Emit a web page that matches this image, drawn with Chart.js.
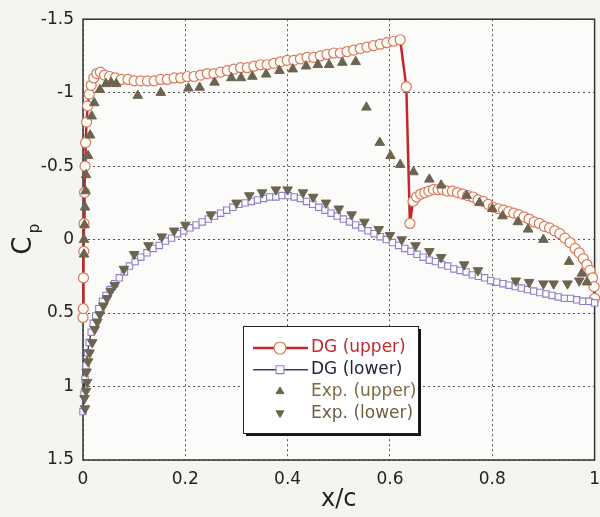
<!DOCTYPE html>
<html>
<head>
<meta charset="utf-8">
<script src="https://cdn.jsdelivr.net/npm/chart.js@4.4.1/dist/chart.umd.min.js"></script>
<style>
  html, body { margin: 0; padding: 0; background: #f4f4f1; overflow: hidden; }
  #caixa { width: 600px; height: 517px; overflow: hidden; }
</style>
</head>
<body>
<div id="caixa"><canvas id="graficoCp" width="609" height="517"></canvas></div>
<script>
// --- Dados ---
// DG (upper): superfície superior
const upperX = [0.000, 0.0005, 0.001, 0.0015, 0.002, 0.003, 0.004, 0.005, 0.007, 0.009, 0.012, 0.016, 0.021, 0.027, 0.034, 0.042,
  0.052, 0.063, 0.075, 0.088, 0.100, 0.113, 0.126, 0.139, 0.152, 0.165, 0.178, 0.191, 0.204, 0.217, 0.230, 0.243, 0.256, 0.269,
  0.282, 0.295, 0.308, 0.321, 0.334, 0.347, 0.360, 0.373, 0.386, 0.399, 0.412, 0.425, 0.438, 0.451, 0.464, 0.477, 0.490, 0.503,
  0.516, 0.529, 0.542, 0.555, 0.568, 0.581, 0.594, 0.607, 0.620, 0.632, 0.639, 0.645, 0.652, 0.660, 0.668, 0.676, 0.685, 0.694,
  0.703, 0.712, 0.722, 0.732, 0.742, 0.752, 0.762, 0.772, 0.782, 0.792, 0.802, 0.812, 0.822, 0.832, 0.842, 0.852, 0.862, 0.872,
  0.882, 0.892, 0.902, 0.912, 0.922, 0.932, 0.942, 0.952, 0.962, 0.970, 0.978, 0.985, 0.991, 0.996, 0.999, 1.000];
const upperCp = [0.53, 0.47, 0.26, 0.08, -0.11, -0.32, -0.50, -0.66, -0.80, -0.91, -0.99, -1.05, -1.10, -1.13, -1.14, -1.12,
  -1.11, -1.10, -1.09, -1.09, -1.08, -1.08, -1.08, -1.08, -1.09, -1.09, -1.10, -1.10, -1.11, -1.11, -1.12, -1.13, -1.13, -1.14,
  -1.15, -1.16, -1.17, -1.17, -1.18, -1.19, -1.19, -1.20, -1.21, -1.22, -1.22, -1.23, -1.24, -1.24, -1.25, -1.26, -1.27, -1.27,
  -1.28, -1.29, -1.30, -1.31, -1.32, -1.33, -1.34, -1.35, -1.36, -1.04, -0.11, -0.26, -0.29, -0.31, -0.32, -0.33, -0.34, -0.34,
  -0.34, -0.33, -0.33, -0.32, -0.31, -0.30, -0.29, -0.27, -0.26, -0.24, -0.22, -0.21, -0.20, -0.19, -0.18, -0.17, -0.155, -0.14,
  -0.12, -0.11, -0.09, -0.08, -0.06, -0.04, -0.01, 0.02, 0.06, 0.09, 0.13, 0.17, 0.21, 0.26, 0.32, 0.40];

// DG (lower): superfície inferior
const lowerX = [0.000, 0.002, 0.004, 0.006, 0.009, 0.012, 0.016, 0.020, 0.025, 0.031, 0.038, 0.045, 0.053, 0.062, 0.071, 0.081,
  0.091, 0.102, 0.113, 0.125, 0.137, 0.149, 0.161, 0.173, 0.185, 0.197, 0.209, 0.221, 0.233, 0.245, 0.257, 0.269, 0.281, 0.293,
  0.305, 0.317, 0.329, 0.341, 0.353, 0.365, 0.377, 0.389, 0.401, 0.413, 0.425, 0.437, 0.449, 0.461, 0.473, 0.485, 0.497, 0.509,
  0.521, 0.533, 0.545, 0.557, 0.569, 0.581, 0.593, 0.605, 0.617, 0.629, 0.641, 0.653, 0.665, 0.677, 0.689, 0.701, 0.713, 0.725,
  0.737, 0.749, 0.761, 0.773, 0.785, 0.797, 0.809, 0.821, 0.833, 0.845, 0.857, 0.869, 0.881, 0.893, 0.905, 0.917, 0.929, 0.941,
  0.953, 0.965, 0.977, 0.989, 1.000];
const lowerCp = [1.17, 1.05, 0.95, 0.86, 0.77, 0.70, 0.63, 0.57, 0.52, 0.47, 0.42, 0.38, 0.34, 0.30, 0.26, 0.22,
  0.18, 0.15, 0.12, 0.09, 0.06, 0.04, 0.01, -0.01, -0.04, -0.06, -0.08, -0.10, -0.12, -0.14, -0.16, -0.18, -0.20, -0.22,
  -0.24, -0.25, -0.26, -0.27, -0.28, -0.29, -0.29, -0.30, -0.30, -0.29, -0.28, -0.26, -0.24, -0.22, -0.20, -0.18, -0.16, -0.14,
  -0.12, -0.10, -0.08, -0.06, -0.04, -0.02, 0.00, 0.02, 0.04, 0.06, 0.08, 0.10, 0.12, 0.14, 0.15, 0.17, 0.18, 0.20,
  0.21, 0.22, 0.24, 0.25, 0.26, 0.28, 0.29, 0.30, 0.31, 0.32, 0.33, 0.34, 0.35, 0.36, 0.37, 0.38, 0.39, 0.40,
  0.40, 0.41, 0.42, 0.42, 0.43];

// Exp. (upper)
const expUpperX = [0.002, 0.002, 0.003, 0.004, 0.005, 0.006, 0.010, 0.014, 0.017, 0.022, 0.033, 0.045, 0.055, 0.065, 0.107,
  0.152, 0.206, 0.228, 0.257, 0.290, 0.309, 0.331, 0.358, 0.384, 0.410, 0.436, 0.459, 0.481, 0.507, 0.533, 0.554, 0.580,
  0.601, 0.620, 0.646, 0.677, 0.700, 0.750, 0.775, 0.800, 0.820, 0.850, 0.870, 0.900, 0.950, 0.975, 0.985];
const expUpperCp = [0.10, 0.00, -0.10, -0.22, -0.33, -0.44, -0.57, -0.71, -0.84, -0.93, -1.02, -1.06, -1.07, -1.06, -0.98,
  -1.00, -1.03, -1.035, -1.07, -1.10, -1.10, -1.11, -1.125, -1.15, -1.16, -1.18, -1.19, -1.19, -1.205, -1.21, -0.90, -0.66,
  -0.57, -0.51, -0.46, -0.41, -0.37, -0.30, -0.25, -0.21, -0.16, -0.12, -0.07, 0.00, 0.15, 0.23, 0.29];

// Exp. (lower)
const expLowerX = [0.003, 0.004, 0.006, 0.007, 0.008, 0.010, 0.013, 0.018, 0.023, 0.028, 0.033, 0.040, 0.047, 0.054, 0.062,
  0.080, 0.100, 0.128, 0.154, 0.178, 0.200, 0.250, 0.300, 0.325, 0.350, 0.377, 0.400, 0.430, 0.450, 0.475, 0.500, 0.525,
  0.550, 0.578, 0.600, 0.623, 0.650, 0.677, 0.700, 0.745, 0.772, 0.846, 0.872, 0.900, 0.920, 0.947, 0.970];
const expLowerCp = [1.08, 1.15, 1.03, 0.90, 0.97, 0.83, 0.77, 0.70, 0.61, 0.56, 0.51, 0.45, 0.40, 0.35, 0.31,
  0.20, 0.10, 0.04, -0.02, -0.06, -0.10, -0.17, -0.25, -0.30, -0.32, -0.34, -0.34, -0.32, -0.29, -0.25, -0.21, -0.17,
  -0.12, -0.07, -0.03, 0.00, 0.04, 0.08, 0.12, 0.17, 0.21, 0.28, 0.29, 0.30, 0.30, 0.30, 0.28];

const pares = (xs, ys) => xs.map((x, i) => ({ x: x, y: ys[i] }));
// rótulos sem zeros à direita: "-1", "0", "0.2", "1"
const rotulo = (v) => String(Number(v.toFixed(2)));

Chart.defaults.font.family = "'DejaVu Sans', Verdana, sans-serif";

// Fundo branco da área do gráfico
const fundoArea = {
  id: 'fundoArea',
  beforeDraw(chart) {
    const a = chart.chartArea, c = chart.ctx;
    c.save();
    c.fillStyle = '#fbfbf9';
    c.fillRect(a.left, a.top, a.right - a.left, a.bottom - a.top);
    c.restore();
  }
};

// Moldura em volta da área
const moldura = {
  id: 'moldura',
  beforeDatasetsDraw(chart) {
    const a = chart.chartArea, c = chart.ctx;
    c.save();
    c.strokeStyle = '#333';
    c.lineWidth = 1.5;
    c.strokeRect(a.left, a.top, a.right - a.left, a.bottom - a.top);
    c.restore();
  }
};

// Título do eixo y: C com p subscrito
const tituloY = {
  id: 'tituloY',
  afterDraw(chart) {
    const c = chart.ctx;
    const a = chart.chartArea;
    c.save();
    c.translate(24, (a.top + a.bottom) / 2 + 6);
    c.rotate(-Math.PI / 2);
    c.fillStyle = '#222';
    c.textAlign = 'center';
    c.textBaseline = 'middle';
    c.font = "26px 'DejaVu Sans'";
    c.fillText('C', 0, 0);
    c.font = "15px 'DejaVu Sans'";
    c.fillText('p', 17, 11);
    c.restore();
  }
};

// Legenda em caixa com sombra
const legendaCaixa = {
  id: 'legendaCaixa',
  afterDraw(chart) {
    const c = chart.ctx;
    const bx = 243, by = 326, bw = 175, bh = 107;
    c.save();
    c.fillStyle = '#151515';
    c.fillRect(bx + 3, by + 3, bw, bh);
    c.fillStyle = '#ffffff';
    c.fillRect(bx, by, bw, bh);
    c.strokeStyle = '#222';
    c.lineWidth = 1;
    c.strokeRect(bx + 0.5, by + 0.5, bw, bh);
    chart.data.datasets.forEach((ds, i) => {
      const yy = by + 22 + i * 21.7;
      if (ds.showLine) {
        c.strokeStyle = ds.borderColor;
        c.lineWidth = ds.borderWidth;
        c.beginPath();
        c.moveTo(bx + 10, yy);
        c.lineTo(bx + 65, yy);
        c.stroke();
      }
      c.fillStyle = ds.pointBackgroundColor;
      c.strokeStyle = ds.pointBorderColor;
      c.lineWidth = ds.pointBorderWidth;
      Chart.helpers.drawPoint(c, {
        pointStyle: ds.pointStyle,
        rotation: ds.pointRotation || 0,
        radius: ds.showLine ? ds.pointRadius + 1 : 4.5,
        borderWidth: ds.pointBorderWidth
      }, bx + 37, yy);
      c.fillStyle = ds.corLegenda;
      c.font = "17px 'DejaVu Sans'";
      c.textAlign = 'left';
      c.textBaseline = 'middle';
      c.fillText(ds.label, bx + 68, yy);
    });
    c.restore();
  }
};

const ctx = document.getElementById('graficoCp').getContext('2d');

new Chart(ctx, {
  type: 'scatter',
  data: {
    datasets: [
      {
        label: 'DG (upper)',
        data: pares(upperX, upperCp),
        showLine: true,
        borderColor: '#c4262b',
        borderWidth: 2.5,
        pointStyle: 'circle',
        pointRadius: 5,
        pointBackgroundColor: '#fffdf8',
        pointBorderColor: '#d8785c',
        pointBorderWidth: 1.2,
        corLegenda: '#c22a2e',
        order: 2,
        clip: false
      },
      {
        label: 'DG (lower)',
        data: pares(lowerX, lowerCp),
        showLine: true,
        borderColor: '#3b3d63',
        borderWidth: 1.5,
        pointStyle: 'rect',
        pointRadius: 4.5,
        pointBackgroundColor: '#fbfaff',
        pointBorderColor: '#8d82c2',
        pointBorderWidth: 1.1,
        corLegenda: '#1f2142',
        order: 1,
        clip: false
      },
      {
        label: 'Exp. (upper)',
        data: pares(expUpperX, expUpperCp),
        pointStyle: 'triangle',
        pointRadius: 5.5,
        pointBackgroundColor: '#6c6450',
        pointBorderColor: '#6c6450',
        pointBorderWidth: 1,
        corLegenda: '#7d6b45',
        order: 0,
        clip: false
      },
      {
        label: 'Exp. (lower)',
        data: pares(expLowerX, expLowerCp),
        pointStyle: 'triangle',
        pointRotation: 180,
        pointRadius: 5.5,
        pointBackgroundColor: '#6c6450',
        pointBorderColor: '#6c6450',
        pointBorderWidth: 1,
        corLegenda: '#6e5f40',
        order: 0,
        clip: false
      }
    ]
  },
  options: {
    responsive: false,
    animation: false,
    devicePixelRatio: 1,
    layout: { padding: { top: 7, left: 0, right: 0, bottom: 0 } },
    plugins: { legend: { display: false }, tooltip: { enabled: false } },
    scales: {
      x: {
        type: 'linear', min: 0, max: 1,
        ticks: { stepSize: 0.2, color: '#222', font: { size: 17 }, padding: 9, callback: rotulo },
        grid: { color: '#555', drawTicks: false },
        border: { display: false, dash: [2, 3] },
        title: { display: true, text: 'x/c', color: '#222', font: { size: 24 }, padding: { top: 0, bottom: 3 } },
        afterFit(s) { s.height = 57; }
      },
      y: {
        type: 'linear', reverse: true, min: -1.5, max: 1.5,
        ticks: { stepSize: 0.5, color: '#222', font: { size: 17 }, padding: 9, callback: rotulo },
        grid: { color: '#555', drawTicks: false },
        border: { display: false, dash: [2, 3] },
        afterFit(s) { s.width = 83; }
      }
    }
  },
  plugins: [fundoArea, moldura, tituloY, legendaCaixa]
});
</script>
</body>
</html>
